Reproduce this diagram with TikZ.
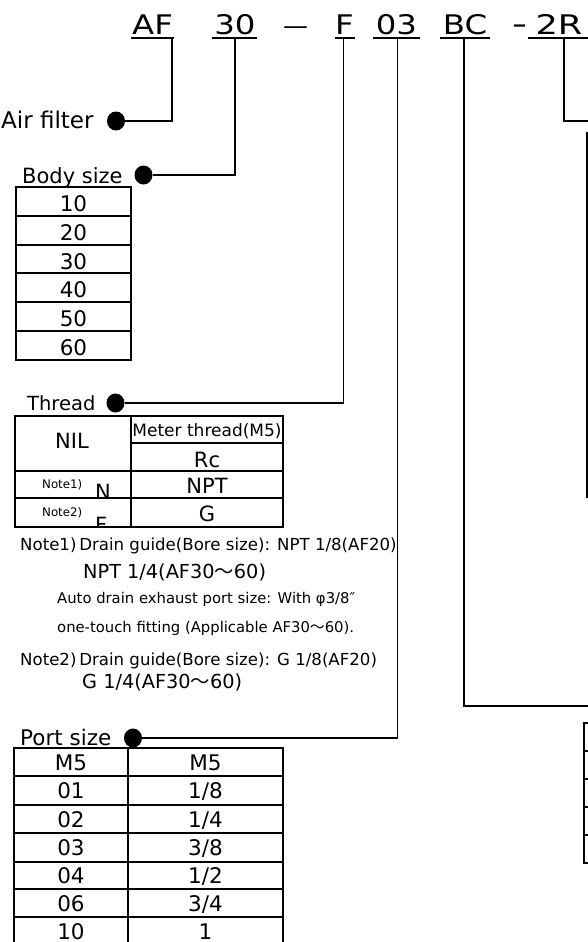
\documentclass[tikz,border=0pt]{standalone}
\usepackage{graphicx}
\usepackage{fontspec}
\usetikzlibrary{shapes.geometric}
\setmainfont{DejaVu Sans}
\newfontfamily\cjk{Noto Sans CJK JP}
\newcommand\fsz[1]{\fontsize{#1}{#1}\selectfont}
\newcommand\wide[1]{\scalebox{1.2}[1]{#1}}
\begin{document}
\begin{tikzpicture}[x=1pt,y=-1pt,
  conn/.style={line width=1.3pt},
  uline/.style={line width=2pt},
  tbl/.style={line width=2pt},
  dot/.style={ellipse,fill=black,inner sep=0pt,minimum width=18pt,minimum height=19pt},
  ttl/.style={inner sep=0pt,anchor=base,font=\fsz{27}},
  lbl/.style={inner sep=0pt,anchor=base west},
  cell/.style={inner sep=0pt,anchor=base},
  note/.style={inner sep=0pt,anchor=base west,font=\fsz{16.6}},
  small/.style={inner sep=0pt,anchor=base west,font=\fsz{14.8}}]
\clip (0,0) rectangle (588,942);
% ---------- title ----------
\node[ttl] (tAF) at (152.5,35) {\wide{AF}};
\node[ttl] (t30) at (235,35) {\wide{30}};
\node[ttl,font=\fsz{25}] (tdash) at (295.5,35) {—};
\node[ttl] (tF) at (344.5,35) {\wide{F}};
\node[ttl] (t03) at (396.5,35) {\wide{03}};
\node[ttl] (tBC) at (465,35) {\wide{BC}};
\node[ttl] (tmin) at (519.5,35) {\scalebox{0.66}[1]{−}};
\node[ttl] (t2R) at (559,35) {\scalebox{1.3}[1]{2R}};
\draw[uline] (131,38.5) -- (174,38.5);
\draw[uline] (212,38.5) -- (257,38.5);
\draw[uline] (335,38.5) -- (355,38.5);
\draw[uline] (373,38.5) -- (420,38.5);
\draw[uline] (440,38.5) -- (490,38.5);
\draw[uline] (528,38.5) -- (590,38.5);
\coordinate (uAF) at (172,38.5);
\coordinate (u30) at (235,38.5);
\coordinate (uF) at (343.5,38.5);
\coordinate (u03) at (397.5,38.5);
\coordinate (uBC) at (464,38.5);
\coordinate (u2R) at (564,38.5);
% ---------- dots and labels ----------
\node[dot] (dAir) at (116,121) {};
\node[lbl,font=\fsz{23}] (lAir) at (1,128.5) {Air filter};
\node[dot] (dBody) at (143.5,175) {};
\node[lbl,font=\fsz{21}] (lBody) at (22,183.3) {Body size};
\node[dot] (dThr) at (115.5,403) {};
\node[lbl,font=\fsz{19.5}] (lThr) at (27,410) {Thread};
\node[dot] (dPort) at (133,738) {};
\node[lbl,font=\fsz{21.5}] (lPort) at (20,745) {Port size};
\coordinate (eBC) at (592,706);
\coordinate (e2R) at (592,121);
% ---------- connectors ----------
\draw[conn] (uAF) |- (dAir);
\draw[conn] (u30) |- (dBody);
\draw[conn] (uF) |- (dThr);
\draw[conn] (u03) |- (dPort);
\draw[conn] (uBC) |- (eBC);
\draw[conn] (u2R) |- (e2R);
% ---------- body size table ----------
\draw[tbl] (16,187) rectangle (131,359.8);
\foreach \i in {1,...,5} \draw[tbl] (16,187+28.8*\i) -- (131,187+28.8*\i);
\foreach \t [count=\i from 0] in {10,20,30,40,50,60}
  \node[cell,font=\fsz{21.5}] (b\i) at (73.5,187+28.8*\i+24.5) {\t};
% ---------- thread table ----------
\begin{scope}
\clip (15,470.7) rectangle (131,526.7);
\node[cell,anchor=base west,font=\fsz{21}] (thN) at (95,499.5) {N};
\node[cell,anchor=base west,font=\fsz{21}] (thF) at (95,532) {F};
\end{scope}
\draw[tbl] (15,416) rectangle (283,526.7);
\draw[tbl] (131,416) -- (131,526.7);
\draw[tbl] (131,442.7) -- (283,442.7);
\draw[tbl] (15,470.7) -- (283,470.7);
\draw[tbl] (15,498.3) -- (283,498.3);
\node[cell,font=\fsz{21}] (thNIL) at (72,448) {NIL};
\node[cell,font=\fsz{17}] (thM) at (207,436) {Meter thread(M5)};
\node[cell,font=\fsz{21}] (thRc) at (207,467) {Rc};
\node[cell,font=\fsz{21}] (thNPT) at (207,493.5) {NPT};
\node[cell,font=\fsz{21}] (thG) at (207,521.5) {G};
\node[cell,anchor=base west,font=\fsz{11.8}] (thn1) at (42,488) {Note1)};
\node[cell,anchor=base west,font=\fsz{11.8}] (thn2) at (42,516.5) {Note2)};
% ---------- notes ----------
\node[note] (n1) at (20,550) {Note1)\,Drain guide(Bore size): NPT 1/8(AF20)};
\node[note,font=\fsz{19.3}] (n1b) at (83,578) {NPT 1/4(AF30{\cjk ～}60)};
\node[small] (n1c) at (57,603) {Auto drain exhaust port size: With φ3/8″};
\node[small] (n1d) at (57,632) {one-touch fitting (Applicable AF30{\cjk ～}60).};
\node[note] (n2) at (20,665) {Note2)\,Drain guide(Bore size): G 1/8(AF20)};
\node[note,font=\fsz{19.3}] (n2b) at (82,688) {G 1/4(AF30{\cjk ～}60)};
% ---------- port size table ----------
\draw[tbl] (14,748.3) rectangle (283,946);
\draw[tbl] (128,748.3) -- (128,946);
\foreach \y in {776,805,833.3,861.7,889.3,917.3} \draw[tbl] (14,\y) -- (283,\y);
\foreach \a/\b/\y [count=\i from 0] in {M5/M5/748.3,01/1\slash 8/776,02/1\slash 4/805,03/3\slash 8/833.3,04/1\slash 2/861.7,06/3\slash 4/889.3,10/1/917.3} {
  \node[cell,font=\fsz{21.5}] (pl\i) at (71,\y+22) {\a};
  \node[cell,font=\fsz{21.5}] (pr\i) at (205.5,\y+22) {\b};
}
% ---------- partial tables at right edge ----------
\draw[tbl] (586.5,133) rectangle (600,497);
\foreach \y in {195,252,280,305,342,360,400,440} \draw[tbl] (586.5,\y) -- (600,\y);
\draw[tbl] (583.5,722.7) rectangle (600,863.3);
\foreach \y in {750.7,779,806.7,835} \draw[tbl] (583.5,\y) -- (600,\y);
\end{tikzpicture}
\end{document}
